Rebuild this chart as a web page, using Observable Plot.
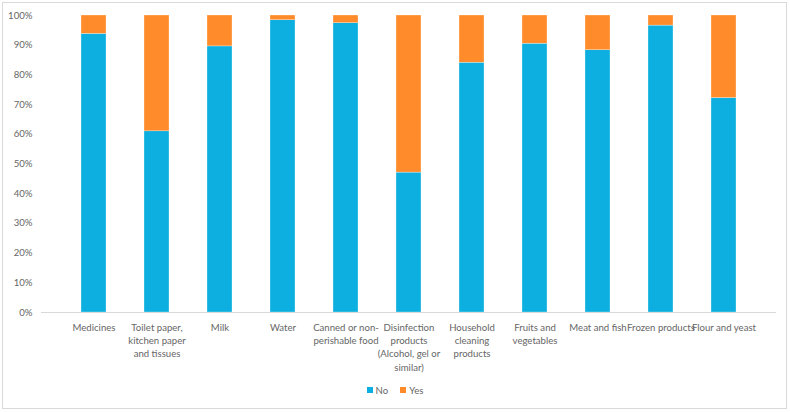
<!DOCTYPE html>
<html>
<head>
<meta charset="utf-8">
<script src="https://cdn.jsdelivr.net/npm/d3@7"></script>
<script src="https://cdn.jsdelivr.net/npm/@observablehq/plot@0.6"></script>
<style>
  html, body { margin: 0; padding: 0; background: #fff; }
  #wrap { position: relative; width: 790px; height: 412px; font-family: Lato, "Open Sans", sans-serif; }
  #frame { position: absolute; left: 2px; top: 2px; width: 785px; height: 407px; border: 1px solid #d9d9d9; box-sizing: border-box; pointer-events: none; }
  #legend { position: absolute; left: 0; top: 385px; width: 790px; text-align: center; font-size: 9.6px; color: #666; }
  #legend span.sw { display: inline-block; width: 6px; height: 6px; margin-right: 3px; vertical-align: 1px; }
  #legend span.item { margin: 0 6px; }
</style>
</head>
<body>
<div id="wrap">
  <div id="chart"></div>
  <div id="frame"></div>
  <div id="legend"></div>
</div>
<script>
const categories = ["Medicines", "Toilet paper", "Milk", "Water", "Canned food", "Disinfection", "Household cleaning", "Fruits and vegetables", "Meat and fish", "Frozen products", "Flour and yeast"];
const tickLabels = ["Medicines", "Toilet paper,\nkitchen paper\nand tissues", "Milk", "Water", "Canned or non-\nperishable food", "Disinfection\nproducts\n(Alcohol, gel or\nsimilar)", "Household\ncleaning\nproducts", "Fruits and\nvegetables", "Meat and fish", "Frozen products", "Flour and yeast"];
const noValues = [0.938, 0.610, 0.896, 0.984, 0.974, 0.471, 0.841, 0.905, 0.883, 0.966, 0.722];
const yesValues = noValues.map(v => 1 - v);
const seriesNames = ["No", "Yes"];
const seriesColors = ["#0cafdf", "#ff8b2b"];

const rows = [];
categories.forEach((c, i) => {
  rows.push({cat: c, series: "No", value: noValues[i]});
  rows.push({cat: c, series: "Yes", value: yesValues[i]});
});
const labelOf = new Map(categories.map((c, i) => [c, tickLabels[i]]));

const chart = Plot.plot({
  width: 790,
  height: 412,
  marginLeft: 41,
  marginRight: 14,
  marginTop: 15,
  marginBottom: 100,
  style: {fontFamily: "Lato, 'Open Sans', sans-serif", fontSize: "9.6px", color: "#666", background: "transparent"},
  x: {domain: categories, padding: 0.6, label: null},
  y: {domain: [0, 1], label: null},
  color: {domain: seriesNames, range: seriesColors},
  marks: [
    Plot.barY(rows, Plot.stackY({x: "cat", y: "value", fill: "series", order: seriesNames, stroke: "#ffffff", strokeWidth: 0.5, strokeOpacity: 0.6})),
    Plot.ruleY([0], {stroke: "#d9d9d9", strokeWidth: 1}),
    Plot.axisY({ticks: d3.range(0, 1.0001, 0.1), tickFormat: d => Math.round(d * 100) + "%", tickSize: 0, tickPadding: 9, label: null}),
    Plot.axisX({tickSize: 0, tickPadding: 9, tickFormat: d => labelOf.get(d), lineHeight: 1.38, label: null})
  ]
});
document.getElementById("chart").appendChild(chart);

const legend = document.getElementById("legend");
seriesNames.forEach((s, i) => {
  const item = document.createElement("span");
  item.className = "item";
  const sw = document.createElement("span");
  sw.className = "sw";
  sw.style.background = seriesColors[i];
  item.appendChild(sw);
  item.appendChild(document.createTextNode(s));
  legend.appendChild(item);
});
</script>
</body>
</html>
